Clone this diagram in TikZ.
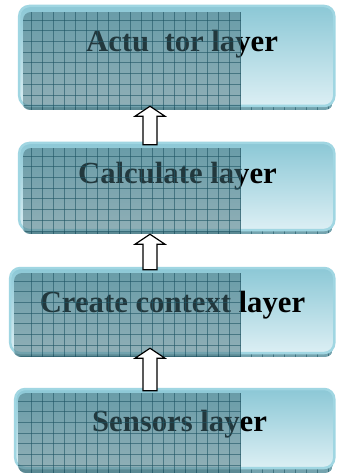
\documentclass[tikz,border=0pt]{standalone}
\usepackage{fontspec}
\setmainfont{Liberation Serif}
\usetikzlibrary{calc}
\definecolor{boxedge}{HTML}{A0D6E2}
\definecolor{boxtop}{HTML}{8CC8D6}
\definecolor{boxbot}{HTML}{DCEFF4}
\definecolor{gridbase}{HTML}{44707A}
\definecolor{gridline}{HTML}{1F5564}
\definecolor{stripfill}{HTML}{74A3AE}
\tikzset{
  layerbox/.style={draw=boxedge, line width=2.5bp, rounded corners=10bp,
    top color=boxtop, bottom color=boxbot, inner sep=0pt},
  layertext/.style={font=\fontsize{30.7bp}{36bp}\selectfont\bfseries,
    text=black, anchor=base, inner sep=0pt},
  gridveil/.style={fill=gridbase, fill opacity=0.5},
  gridstroke/.style={draw=gridline, line width=0.7bp, draw opacity=0.6},
  hollow/.style={draw=black, fill=white, line width=1.2bp, line join=miter},
}
% grid-textured overlay on the left part of a box (x1,y1,x2,y2)
\newcommand\gridveilpatch[4]{%
  \begin{scope}
    \clip (#3,#2) [rounded corners=8bp] -- (#1,#2) -- (#1,#4) [sharp corners] -- (#3,#4) -- cycle;
    \fill[gridveil] (#1,#2) rectangle (#3,#4);
    \foreach \gx in {31.5,42.5,...,241} {\draw[gridstroke] (\gx,#2) -- (\gx,#4);}
    \foreach \gk in {0,...,10} {\draw[gridstroke] (#1,{#2+8+10.7*\gk}) -- (#3,{#2+8+10.7*\gk});}
  \end{scope}}
% grid-textured strip under a box
\newcommand\gridstrip[4]{%
  \begin{scope}
    \clip[rounded corners=8bp] (#1,#2) rectangle (#3,#4);
    \fill[stripfill] (#1,#2) rectangle (#3,#4);
    \foreach \gx in {31.5,42.5,...,333} {\draw[gridstroke] (\gx,#2) -- (\gx,#4);}
  \end{scope}}
% hollow arrow from lower box (#1) up to upper box (#2), tip offset #3
\newcommand\layerarrow[3]{%
  \path (#2.south -| ax) ++(0,#3) coordinate (atip);
  \path (#1.north -| ax) ++(0,3) coordinate (afoot);
  \draw[hollow] (atip) -- ($(atip)+(15,10)$) -- ($(atip)+(7,10)$) -- ($(afoot)+(7,0)$)
    -- ($(afoot)+(-7,0)$) -- ($(atip)+(-7,10)$) -- ($(atip)+(-15,10)$) -- cycle;}
\begin{document}
\begin{tikzpicture}[x=1bp, y=-1bp]
  \useasboundingbox (0,0) rectangle (336,475);
  \fill[white] (0,0) rectangle (336,475);
  \coordinate (ax) at (150,0);
  % strips behind boxes
  \gridstrip{22}{12}{333}{110}
  \gridstrip{22}{148}{333}{234}
  \gridstrip{13}{273}{333}{357}
  \gridstrip{18}{393}{333}{473}
  % boxes
  \node[layerbox, minimum width=315bp, minimum height=100bp] (b1) at (176.75,56) {};
  \node[layerbox, minimum width=315bp, minimum height=87bp] (b2) at (176.75,186.5) {};
  \node[layerbox, minimum width=324bp, minimum height=85bp] (b3) at (172.25,310.5) {};
  \node[layerbox, minimum width=319bp, minimum height=79bp] (b4) at (174.75,428.5) {};
  % texts
  \node[layertext] (t1) at (182,52) {Actu\phantom{a}tor layer};
  \node[layertext] (t2) at (177.5,184) {Calculate layer};
  \node[layertext] (t3) at (172.5,312) {Create context layer};
  \node[layertext] (t4) at (179.5,431) {Sensors layer};
  % grid overlays
  \gridveilpatch{23}{12}{241}{110}
  \gridveilpatch{23}{148}{241}{234}
  \gridveilpatch{14}{273}{241}{357}
  \gridveilpatch{18}{393}{241}{473}
  % arrows
  \layerarrow{b2}{b1}{-1}
  \layerarrow{b3}{b2}{3}
  \layerarrow{b4}{b3}{-6}
\end{tikzpicture}
\end{document}
